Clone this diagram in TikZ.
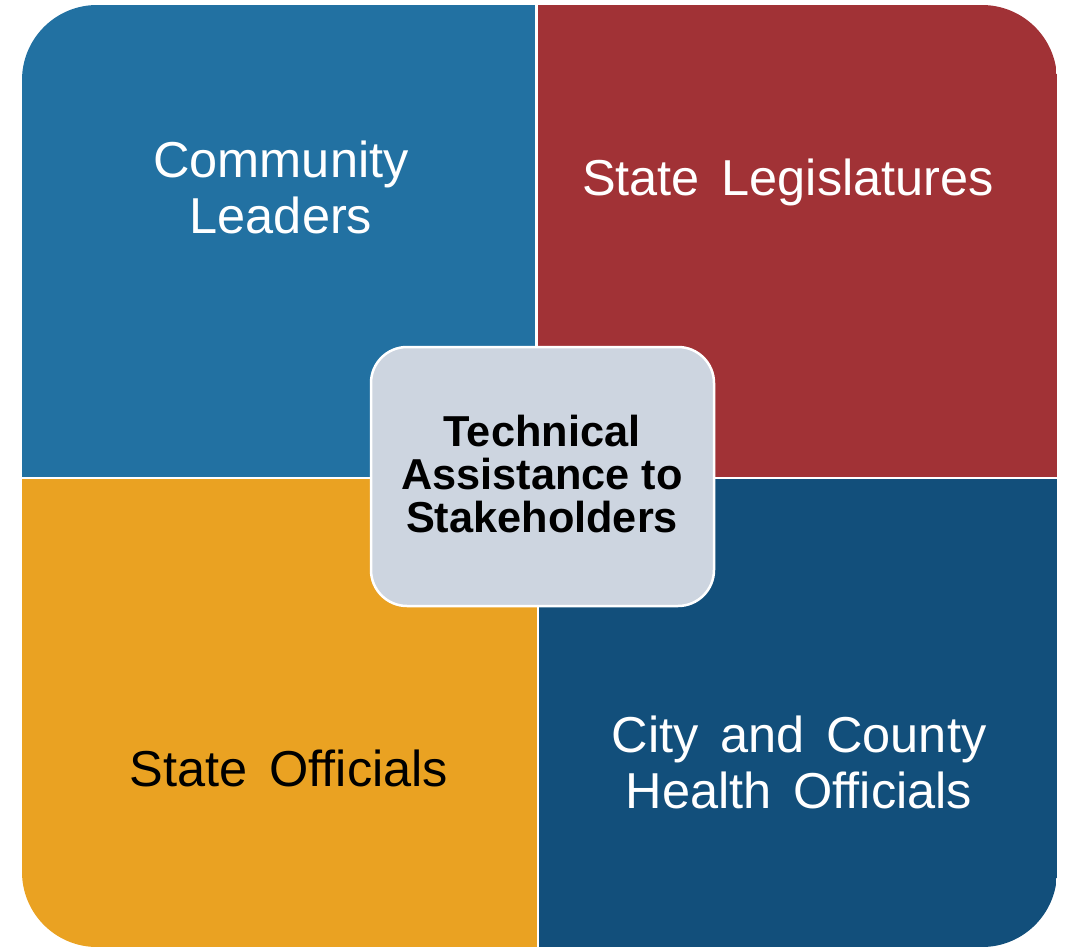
\documentclass[tikz,border=0pt]{standalone}
\usepackage{fontspec}
\setmainfont{Liberation Sans}
\newfontfamily\lblfont[WordSpace=1.55]{Liberation Sans}
\definecolor{qblue}{RGB}{34,113,162}
\definecolor{qred}{RGB}{161,50,54}
\definecolor{qorange}{RGB}{234,162,34}
\definecolor{qnavy}{RGB}{18,79,123}
\definecolor{qcenter}{RGB}{205,213,224}
\tikzset{
  quadlabel/.style={font=\lblfont\fontsize{50.5}{56}\selectfont, align=center, inner sep=0pt},
  centerbox/.style={draw=white, line width=2.5pt, fill=qcenter, rounded corners=36pt},
  centerlabel/.style={font=\bfseries\fontsize{43.3}{43}\selectfont, align=center, inner sep=0pt, text=black}
}
\begin{document}
\begin{tikzpicture}[x=1pt,y=-1pt]
\useasboundingbox (0,0) rectangle (1066,948);
\begin{scope}
  \clip[rounded corners=75pt] (22,5) rectangle (1057,947);
  \fill[qblue] (22,5) rectangle (534.5,476.5);
  \fill[qred] (537.5,5) rectangle (1057,476.5);
  \fill[qorange] (22,479) rectangle (536.5,947);
  \fill[qnavy] (539,479) rectangle (1057,947);
\end{scope}
\node[quadlabel, text=white] (cl) at (281,187) {Community\\Leaders};
\node[quadlabel, text=white, anchor=base] (sl) at (788,195) {State Legislatures};
\node[quadlabel, text=black, anchor=base] (so) at (289,786) {State Officials};
\node[quadlabel, text=white] (ch) at (799,762) {City and County\\Health Officials};
\draw[centerbox] (371,347) rectangle (714,606);
\node[centerlabel] (ta) at (542,474) {Technical\\Assistance to\\Stakeholders};
\end{tikzpicture}
\end{document}
